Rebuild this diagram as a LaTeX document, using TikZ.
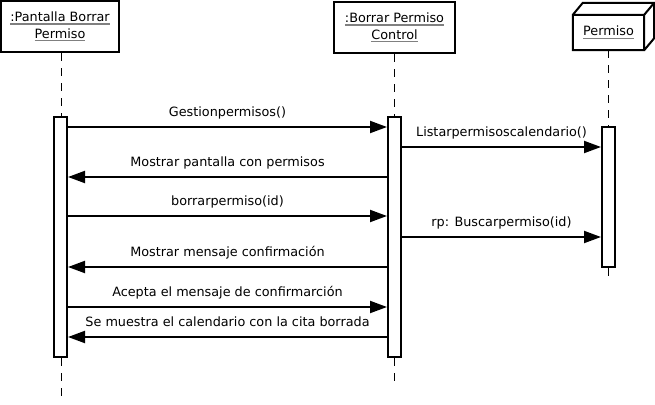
\documentclass[tikz,border=0pt]{standalone}
\usepackage{fontspec}
\setmainfont{DejaVu Sans}
\usetikzlibrary{arrows.meta}
\newcommand\grayul[1]{\setbox0\hbox{#1}\rlap{\color[gray]{0.5}\rule[-3pt]{\wd0}{1.2pt}}\box0}
\begin{document}
\begin{tikzpicture}[x=1pt,y=-1pt,
  every node/.style={font=\fontsize{12.8}{16.5}\selectfont},
  head/.style={draw,line width=2pt,align=center,inner sep=0pt},
  act/.style={draw,line width=2pt,fill=white,inner sep=0pt,minimum width=13pt},
  life/.style={line width=1pt,dash pattern=on 8pt off 7pt},
  msg/.style={line width=2pt,-{Triangle[length=17pt,width=12pt]}},
  lbl/.style={anchor=base,inner sep=0pt,yshift=10.5pt}]
\useasboundingbox (0,0) rectangle (655,404);
% headers
\node[head,minimum width=118pt,minimum height=51pt] (b1) at (60,26.5) {\grayul{:Pantalla Borrar}\\\grayul{Permiso}};
\node[head,minimum width=121pt,minimum height=51pt] (b2) at (394.5,27.5) {\grayul{:Borrar Permiso}\\\grayul{Control}};
\node[inner sep=0pt,minimum width=71pt,minimum height=35pt] (b3) at (608.5,32.5) {\grayul{Permiso}};
\draw[line width=2pt,line join=miter] (b3.south west) rectangle (b3.north east)
  (b3.north west) -- ++(10,-12) -- ([xshift=10pt,yshift=12pt]b3.north east)
  -- ([xshift=10pt,yshift=12pt]b3.south east) -- (b3.south east)
  (b3.north east) -- ++(10,-12);
% activations
\node[act,minimum height=240pt] (a1) at (60.5,237) {};
\node[act,minimum height=240pt] (a2) at (394.5,237) {};
\node[act,minimum height=140pt] (a3) at (608.5,197) {};
% lifelines
\coordinate (e1) at (61,400);
\coordinate (e2) at (394,384);
\coordinate (e3) at (608,276);
\draw[life] (b1.south -| 61,0) -- (a1.north -| 61,0);
\draw[life] (a1.south -| 61,0) -- (e1);
\draw[life] (b2.south -| 394,0) -- (a2.north -| 394,0);
\draw[life] (a2.south -| 394,0) -- (e2);
\draw[life] (b3.south -| 608,0) -- (a3.north -| 608,0);
\draw[life] (a3.south -| 608,0) -- (e3);
% messages
\draw[msg] (a1.east |- 0,127) -- node[lbl]{Gestionpermisos()} (a2.west |- 0,127);
\draw[msg] (a2.east |- 0,147) -- node[lbl]{Listarpermisoscalendario()} (a3.west |- 0,147);
\draw[msg] (a2.west |- 0,177) -- node[lbl]{Mostrar pantalla con permisos} (a1.east |- 0,177);
\draw[msg] (a1.east |- 0,216) -- node[lbl]{borrarpermiso(id)} (a2.west |- 0,216);
\draw[msg] (a2.east |- 0,237) -- node[lbl]{rp: Buscarpermiso(id)} (a3.west |- 0,237);
\draw[msg] (a2.west |- 0,267) -- node[lbl]{Mostrar mensaje confirmación} (a1.east |- 0,267);
\draw[msg] (a1.east |- 0,307) -- node[lbl]{Acepta el mensaje de confirmarción} (a2.west |- 0,307);
\draw[msg] (a2.west |- 0,337) -- node[lbl]{Se muestra el calendario con la cita borrada} (a1.east |- 0,337);
\end{tikzpicture}
\end{document}
